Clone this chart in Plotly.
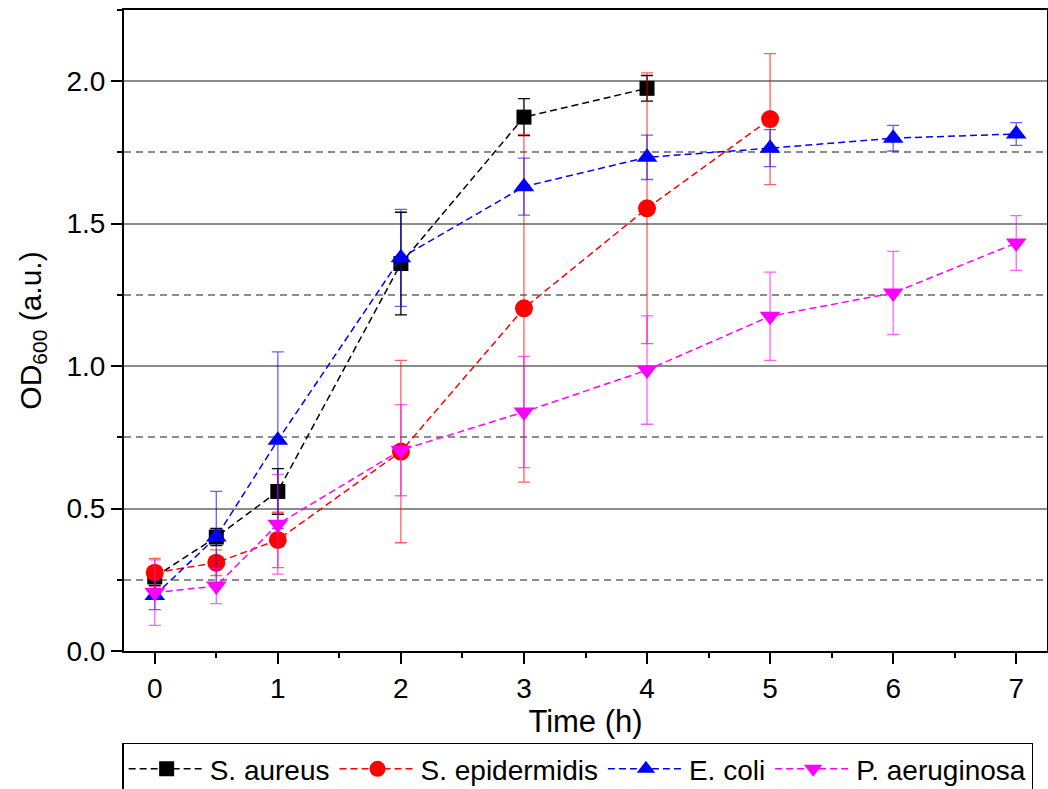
import plotly.graph_objects as go

# Sampling times (h)
time_aureus = [0, 0.5, 1, 2, 3, 4]
time_epi = [0, 0.5, 1, 2, 3, 4, 5]
time_coli = [0, 0.5, 1, 2, 3, 4, 5, 6, 7]
time_aerug = [0, 0.5, 1, 2, 3, 4, 5, 6, 7]

# Mean OD600 and standard deviations
od_aureus = [0.26, 0.40, 0.56, 1.36, 1.874, 1.975]
sd_aureus = [0.03, 0.03, 0.08, 0.18, 0.065, 0.045]

od_epi = [0.275, 0.31, 0.39, 0.70, 1.203, 1.554, 1.867]
sd_epi = [0.05, 0.045, 0.097, 0.32, 0.61, 0.475, 0.23]

od_coli = [0.195, 0.40, 0.74, 1.38, 1.63, 1.733, 1.765, 1.80, 1.815]
sd_coli = [0.05, 0.16, 0.31, 0.17, 0.10, 0.078, 0.065, 0.045, 0.04]

od_aerug = [0.205, 0.228, 0.445, 0.705, 0.839, 0.986, 1.175, 1.257, 1.432]
sd_aerug = [0.115, 0.062, 0.175, 0.16, 0.195, 0.19, 0.155, 0.146, 0.096]

series = [
    ("S. aureus", time_aureus, od_aureus, sd_aureus, "black", "black", "square", 15),
    ("S. epidermidis", time_epi, od_epi, sd_epi, "red", "rgba(255,0,0,0.62)", "circle", 18),
    ("E. coli", time_coli, od_coli, sd_coli, "blue", "rgba(0,0,255,0.62)", "triangle-up", 18),
    ("P. aeruginosa", time_aerug, od_aerug, sd_aerug, "magenta", "rgba(255,0,255,0.62)", "triangle-down", 18),
]

FONT = "Liberation Sans, Arial, sans-serif"

fig = go.Figure()
for name, t, od, sd, color, ecolor, symbol, size in series:
    fig.add_trace(go.Scatter(
        x=t, y=od, name=name, mode="lines+markers",
        line=dict(color=color, width=1.5, dash="7px,4px"),
        marker=dict(symbol=symbol, size=size, color=color, line=dict(width=0)),
        error_y=dict(type="data", array=sd, visible=True, color=ecolor,
                     thickness=1.3, width=6),
    ))

fig.update_layout(
    width=1048, height=789,
    margin=dict(l=124, r=1, t=10, b=138, autoexpand=False),
    plot_bgcolor="white", paper_bgcolor="white",
    font=dict(family=FONT, size=28, color="black"),
    legend=dict(
        orientation="h", x=-0.002, xanchor="left", y=-0.143, yanchor="top",
        bordercolor="black", borderwidth=1.5, bgcolor="white",
        font=dict(size=28, family=FONT), itemwidth=76, tracegroupgap=0,
    ),
    showlegend=True,
)

fig.update_xaxes(
    range=[-0.25, 7.25], tickmode="linear", tick0=0, dtick=1,
    showgrid=False, zeroline=False,
    showline=True, linecolor="black", linewidth=2, mirror=True,
    ticks="outside", ticklen=11, tickwidth=2, tickcolor="black",
    minor=dict(dtick=0.5, tick0=0, ticks="outside", ticklen=5, tickwidth=2,
               tickcolor="black", showgrid=False),
    tickfont=dict(size=28),
    title=dict(text="Time (h)", font=dict(size=31), standoff=8),
)

fig.update_yaxes(
    range=[0, 2.25], tickmode="linear", tick0=0, dtick=0.5, tickformat=".1f",
    showgrid=True, gridcolor="#8c8c8c", gridwidth=1.6, zeroline=False,
    showline=True, linecolor="black", linewidth=2, mirror=True,
    ticks="outside", ticklen=11, tickwidth=2, tickcolor="black",
    minor=dict(dtick=0.25, tick0=0, ticks="outside", ticklen=5, tickwidth=2,
               tickcolor="black", showgrid=True, gridcolor="#8c8c8c",
               gridwidth=1.6, griddash="7px,5px"),
    tickfont=dict(size=28),
    title=dict(text="OD<sub>600</sub> (a.u.)", font=dict(size=30), standoff=16),
)

fig.write_html("out.html")
